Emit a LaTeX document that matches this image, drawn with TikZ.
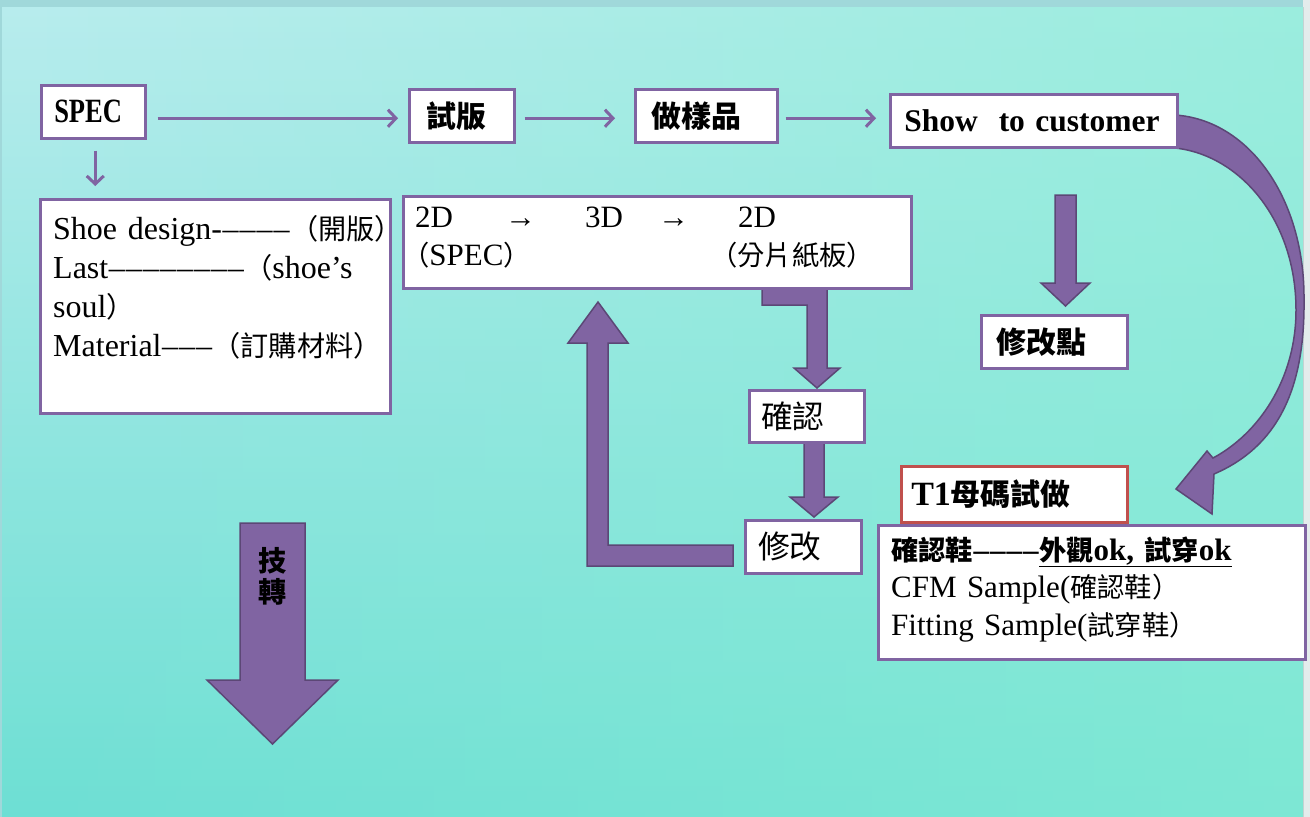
\documentclass[tikz,border=0pt]{standalone}
\usepackage{fontspec}
\usepackage{graphicx}
\setmainfont{Liberation Serif}
\newfontfamily\cjk{Noto Sans CJK TC}[Scale=0.88]
\usetikzlibrary{arrows.meta,calc,fadings}
\definecolor{pp}{HTML}{8064A2}
\definecolor{ppd}{HTML}{5C4776}
\definecolor{rd}{HTML}{C0504D}
\definecolor{bgtop}{HTML}{B9ECEE}
\definecolor{bgbot}{HTML}{6DDFD4}
\definecolor{bgright}{HTML}{88EED4}
\definecolor{topband}{HTML}{A0D8DA}
\definecolor{rband}{HTML}{E4ECEC}
\definecolor{rline}{HTML}{C4D2D2}
\newcommand\dsh{\kern0.5pt–\kern0.5pt}
\tikzset{
  box/.style={draw=pp, line width=2.5pt, fill=white, inner ysep=0pt, anchor=north west, align=left},
  txt/.style={inner sep=0pt, anchor=base west, align=left},
  tarrow/.style={draw=pp, line width=3pt, -{Straight Barb[length=8pt,width=17pt]}},
  barrow/.style={fill=pp, draw=ppd, line width=1.5pt, line join=miter},
  bigzh/.style={font=\cjk\bfseries\fontsize{34}{40}\selectfont},
  zh/.style={font=\cjk\fontsize{36}{40}\selectfont},
}
\begin{document}
\begin{tikzpicture}[x=1pt,y=-1pt]
\useasboundingbox (0,0) rectangle (1310,817);
% background
\shade[top color=bgtop, bottom color=bgbot] (0,0) rectangle (1310,817);
\fill[bgright, path fading=west, opacity=0.6] (0,0) rectangle (1310,817);
\fill[topband] (0,0) rectangle (1310,7);
\fill[topband] (0,0) rectangle (2,817);
\fill[rband] (1303,0) rectangle (1310,817);
\draw[rline, line width=1pt] (1303,7) -- (1303,817);

% block arrows (under the boxes)
\filldraw[barrow] (1175,115) .. controls (1250,120) and (1305,200) .. (1304,300)
  .. controls (1305,390) and (1277,447) .. (1214,474)
  -- (1212,514) -- (1176,489) -- (1207,451) -- (1213,458)
  .. controls (1258,434) and (1296,380) .. (1296,310)
  .. controls (1296,220) and (1240,155) .. (1175,148) -- cycle;
\filldraw[barrow] (762,287) -- (827,287) -- (827,368) -- (840,368) -- (817,388) -- (794,368) -- (807,368) -- (807,305) -- (762,305) -- cycle;
\filldraw[barrow] (804,441) -- (824,441) -- (824,497) -- (838,497) -- (814,517) -- (790,497) -- (804,497) -- cycle;
\filldraw[barrow] (733,545) -- (608,545) -- (608,343) -- (628,343) -- (598,302) -- (568,343) -- (587,343) -- (587,566) -- (733,566) -- cycle;
\filldraw[barrow] (1055,195) -- (1076,195) -- (1076,283) -- (1090,283) -- (1065.5,306) -- (1041,283) -- (1055,283) -- cycle;
\filldraw[barrow] (240,523) -- (305,523) -- (305,680) -- (338,680) -- (272.5,744) -- (207,680) -- (240,680) -- cycle;
\node[inner sep=0pt, align=center, font=\cjk\bfseries\fontsize{32}{31}\selectfont] (jizhuan) at (272.5,576) {技\\轉};

% simple boxes
\node[box, minimum height=53pt, inner xsep=13pt, text width=78pt, font=\bfseries\fontsize{34}{40}\selectfont] (spec) at (40,84) {\mbox{\scalebox{0.78}[1]{SPEC}}};
\node[box, bigzh, minimum height=53pt, inner xsep=17pt, text width=71pt] (shiban) at (408,88) {試版};
\node[box, bigzh, minimum height=53pt, inner xsep=16pt, text width=110pt] (yangpin) at (634,88) {做樣品};
\node[box, minimum height=53pt, inner xsep=14pt, text width=259pt, font=\bfseries\fontsize{31.5}{38}\selectfont] (show) at (889,93) {\mbox{Show\ \ to customer}};
\node[box, bigzh, minimum height=53pt, inner xsep=15pt, text width=116pt] (xgd) at (980,314) {修改點};
\node[box, zh, minimum height=52pt, inner xsep=12pt, text width=91pt] (queren) at (748,389) {確認};
\node[box, zh, minimum height=53pt, inner xsep=13pt, text width=90pt] (xiugai) at (744,519) {修改};
\node[box, draw=rd, minimum height=56pt, inner xsep=10pt, text width=206pt, font=\bfseries\fontsize{34}{40}\selectfont] (tone) at (900,465) {\mbox{T1{\cjk 母碼試做}}};

% multi-line boxes
\node[box, minimum width=350pt, minimum height=214pt] (design) at (39,198) {};
\node[txt, text width=400pt, font=\fontsize{32}{39}\selectfont] (designtext) at (53,239)
  {\mbox{Shoe design-\dsh\dsh\dsh\dsh{\cjk （開版）}}\\\mbox{Last\dsh\dsh\dsh\dsh\dsh\dsh\dsh\dsh{\cjk （}shoe’s}\\\mbox{soul{\cjk ）}}\\\mbox{Material\dsh\dsh\dsh{\cjk （訂購材料）}}};
\node[box, minimum width=508pt, minimum height=92pt] (dbox) at (402,195) {};
\node[txt, text width=500pt, font=\fontsize{31}{38}\selectfont] (dtext) at (415,227)
  {\mbox{\makebox[90pt][l]{2D}\makebox[80pt][l]{→}\makebox[73pt][l]{3D}\makebox[80pt][l]{→}2D}\\\mbox{\makebox[295pt][l]{\hspace*{-13pt}{\cjk （}SPEC{\cjk ）}}{\cjk （分片紙板）}}};
\node[box, minimum width=427pt, minimum height=134pt] (cfm) at (877,524) {};
\node[txt, text width=420pt, font=\fontsize{31}{37.5}\selectfont] (cfmtext) at (891,560)
  {\mbox{\textbf{{\cjk 確認鞋}\dsh\dsh\dsh\dsh\underline{{\cjk 外觀}ok, {\cjk 試穿}ok}}}\\\mbox{CFM Sample({\cjk 確認鞋）}}\\\mbox{Fitting Sample({\cjk 試穿鞋）}}};

% thin connectors
\draw[tarrow, shorten <=11pt, shorten >=10pt] ([yshift=-6.5pt]spec.east) -- ([yshift=-6.5pt]spec.east -| shiban.west);
\draw[tarrow, shorten <=9pt, shorten >=19pt] ([yshift=-2.5pt]shiban.east) -- ([yshift=-2.5pt]shiban.east -| yangpin.west);
\draw[tarrow, shorten <=7pt, shorten >=13pt] ([yshift=-2.5pt]yangpin.east) -- ([yshift=-2.5pt]yangpin.east -| show.west);
\draw[tarrow, shorten <=11pt, shorten >=12pt] ([xshift=2pt]spec.south) -- ([xshift=2pt]spec.south |- design.north);
\end{tikzpicture}
\end{document}
